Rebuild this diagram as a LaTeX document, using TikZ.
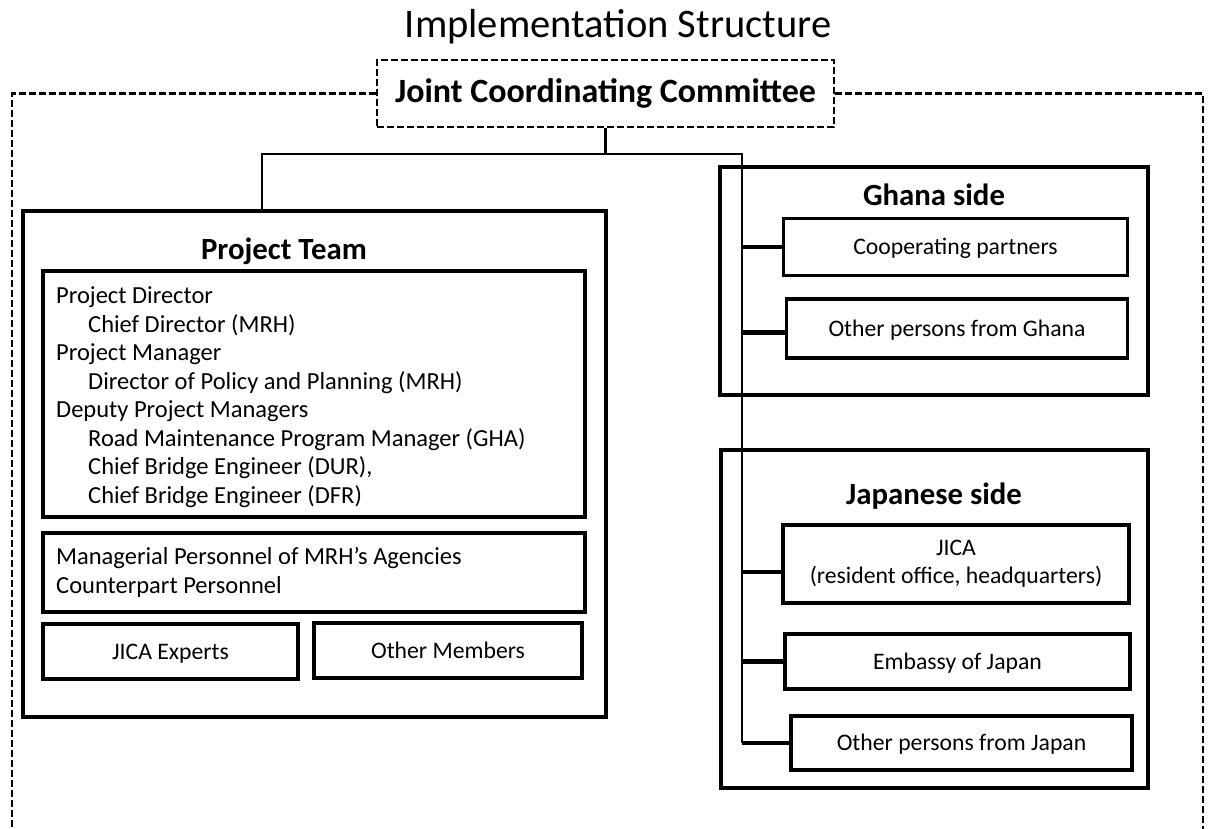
\documentclass[tikz,border=0pt]{standalone}
\usepackage{fontspec}
\setmainfont{Carlito}
\begin{document}
\begin{tikzpicture}[x=1pt,y=-1pt,
  box/.style={draw=black,line width=3.5pt,rectangle,inner sep=0pt,align=center},
  lbl/.style={inner sep=0pt,font=\fontsize{30.8}{34}\selectfont\bfseries},
  bt/.style={font=\fontsize{23.7}{28}\selectfont},
  bto/.style={bt,text height=16pt,text depth=1pt},
  lt/.style={inner sep=0pt,align=left,anchor=west},
  conn/.style={line width=2.8pt},
  stub/.style={line width=4.2pt},
  dsh/.style={line width=2.8pt,dash pattern=on 7pt off 3pt}]
\useasboundingbox (0,0) rectangle (1208,829);
\fill[white] (0,0) rectangle (1208,829);

\node[inner sep=0pt,font=\fontsize{40.5}{44}\selectfont] (title) at (618,27) {Implementation Structure};

\node[draw,dsh,rectangle,minimum width=457pt,minimum height=67pt,inner sep=0pt,
      font=\fontsize{34}{38}\selectfont\bfseries] (jcc) at (605.5,93.5) {Joint Coordinating Committee};
\draw[dsh] (jcc.west) -| (12,829);
\draw[dsh] (jcc.east) -| (1203,829);

% Project team
\node[box,line width=3.8pt,minimum width=583pt,minimum height=506pt] (team) at (314.5,464) {};
\node[lbl] (teamlbl) at (284,251) {Project Team};
\node[box,minimum width=542pt,minimum height=246pt] (list) at (314,394) {};
\node[lt,font=\fontsize{24.5}{28.5}\selectfont] (listtxt) at (56,397) {%
Project Director\\
\hspace*{32pt}Chief Director (MRH)\\
Project Manager\\
\hspace*{32pt}Director of Policy and Planning (MRH)\\
Deputy Project Managers\\
\hspace*{32pt}Road Maintenance Program Manager (GHA)\\
\hspace*{32pt}Chief Bridge Engineer (DUR),\\
\hspace*{32pt}Chief Bridge Engineer (DFR)};
\node[box,minimum width=542pt,minimum height=79pt] (pers) at (314,572.5) {};
\node[lt,font=\fontsize{24.5}{29}\selectfont] (perstxt) at (56,572.5) {%
Managerial Personnel of MRH’s Agencies\\
Counterpart Personnel};
\node[box,bto,minimum width=255pt,minimum height=55pt] (jexp) at (170.5,651.5) {JICA Experts};
\node[box,bto,minimum width=268pt,minimum height=55pt] (othm) at (448,650.5) {Other Members};

% Ghana side
\node[box,minimum width=428pt,minimum height=228pt] (ghana) at (934,281) {};
\node[lbl] (ghanalbl) at (934,195) {Ghana side};
\node[box,bto,minimum width=344pt,minimum height=57pt] (coop) at (955.5,247) {Cooperating partners};
\node[box,bto,minimum width=341pt,minimum height=59pt] (oghana) at (957,328.5) {Other persons from Ghana};

% Japanese side
\node[box,minimum width=427pt,minimum height=338pt] (japan) at (934.5,619) {};
\node[lbl] (japanlbl) at (934,496) {Japanese side};
\node[box,bt,minimum width=346pt,minimum height=78pt] (jica) at (956,564) {JICA\\(resident office, headquarters)};
\node[box,bto,minimum width=345pt,minimum height=55pt] (emb) at (957.5,661.5) {Embassy of Japan};
\node[box,bto,minimum width=341pt,minimum height=54pt] (ojapan) at (961.5,743) {Other persons from Japan};

% connectors
\coordinate (lft) at (262,154);
\coordinate (rt) at (742,154);
\coordinate (ogw) at ([yshift=-4pt]oghana.west);
\coordinate (jw) at ([yshift=-8pt]jica.west);
\draw[conn] (jcc.south) -- (jcc.south |- lft);
\draw[conn] (team.north -| lft) -- (lft) -- (rt) -- (rt |- ojapan.west);
\draw[stub] (rt |- coop.west) -- (coop.west);
\draw[stub] (rt |- ogw) -- (ogw);
\draw[stub] (rt |- jw) -- (jw);
\draw[stub] (rt |- emb.west) -- (emb.west);
\draw[stub] (rt |- ojapan.west) -- (ojapan.west);
\end{tikzpicture}
\end{document}
